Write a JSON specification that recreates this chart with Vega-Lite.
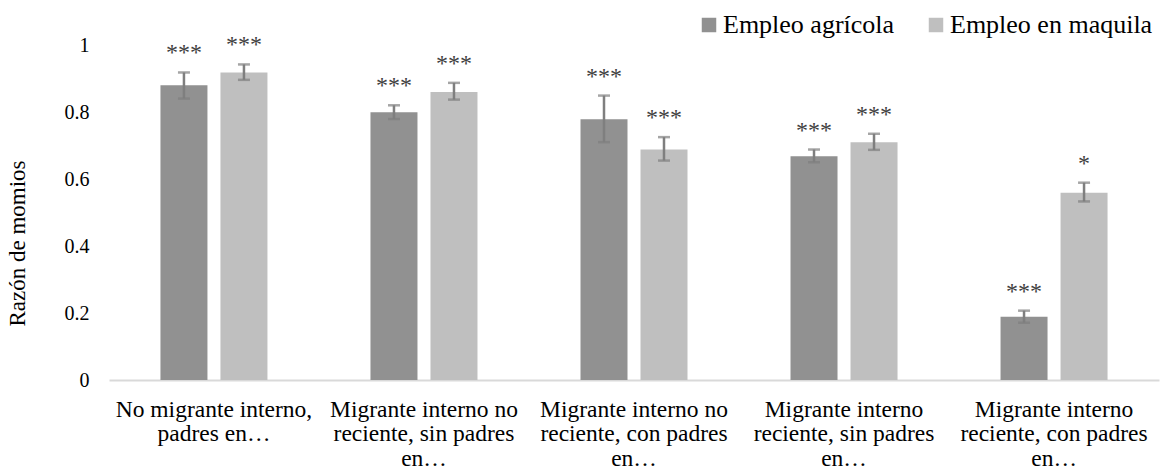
{
  "$schema": "https://vega.github.io/schema/vega-lite/v6.json",
  "width": 1050,
  "height": 335,
  "autosize": {"type": "none"},
  "padding": {"left": 109, "top": 45, "right": 2, "bottom": 96},
  "background": "white",
  "config": {
    "view": {"stroke": null},
    "font": "Liberation Serif",
    "axis": {"labelFont": "Liberation Serif", "titleFont": "Liberation Serif"},
    "legend": {"labelFont": "Liberation Serif", "titleFont": "Liberation Serif"},
    "text": {"font": "Liberation Serif"}
  },
  "data": {
    "values": [
      {"cat": "No migrante interno,|padres en…", "serie": "Empleo agrícola", "valor": 0.88, "lo": 0.84, "hi": 0.918, "sig": "***"},
      {"cat": "No migrante interno,|padres en…", "serie": "Empleo en maquila", "valor": 0.918, "lo": 0.896, "hi": 0.942, "sig": "***"},
      {"cat": "Migrante interno no|reciente, sin padres|en…", "serie": "Empleo agrícola", "valor": 0.799, "lo": 0.779, "hi": 0.82, "sig": "***"},
      {"cat": "Migrante interno no|reciente, sin padres|en…", "serie": "Empleo en maquila", "valor": 0.86, "lo": 0.837, "hi": 0.887, "sig": "***"},
      {"cat": "Migrante interno no|reciente, con padres|en…", "serie": "Empleo agrícola", "valor": 0.778, "lo": 0.71, "hi": 0.849, "sig": "***"},
      {"cat": "Migrante interno no|reciente, con padres|en…", "serie": "Empleo en maquila", "valor": 0.688, "lo": 0.655, "hi": 0.725, "sig": "***"},
      {"cat": "Migrante interno|reciente, sin padres|en…", "serie": "Empleo agrícola", "valor": 0.668, "lo": 0.65, "hi": 0.688, "sig": "***"},
      {"cat": "Migrante interno|reciente, sin padres|en…", "serie": "Empleo en maquila", "valor": 0.71, "lo": 0.687, "hi": 0.735, "sig": "***"},
      {"cat": "Migrante interno|reciente, con padres|en…", "serie": "Empleo agrícola", "valor": 0.189, "lo": 0.171, "hi": 0.207, "sig": "***"},
      {"cat": "Migrante interno|reciente, con padres|en…", "serie": "Empleo en maquila", "valor": 0.559, "lo": 0.533, "hi": 0.589, "sig": "*"}
    ]
  },
  "encoding": {
    "x": {
      "field": "cat",
      "type": "nominal",
      "sort": null,
      "scale": {"paddingInner": 0.4905, "paddingOuter": 0.245},
      "axis": {
        "title": null,
        "labelAngle": 0,
        "labelExpr": "split(datum.label, '|')",
        "labelFont": "Liberation Serif",
        "labelFontSize": 23.5,
        "labelLineHeight": 24.5,
        "labelColor": "#000000",
        "labelBaseline": "top",
        "labelPadding": 17,
        "ticks": false,
        "domainColor": "#d9d9d9",
        "domainWidth": 2,
        "labelLimit": 0,
        "grid": false
      }
    },
    "xOffset": {
      "field": "serie",
      "type": "nominal",
      "scale": {"paddingInner": 0.2167, "paddingOuter": 0}
    }
  },
  "layer": [
    {
      "mark": {"type": "bar"},
      "encoding": {
        "y": {
          "field": "valor",
          "type": "quantitative",
          "scale": {"domain": [0, 1], "nice": false, "zero": true},
          "axis": {
            "title": "Razón de momios",
            "titleFont": "Liberation Serif",
            "titleFontSize": 23,
            "titleFontWeight": "normal",
            "titleColor": "#000000",
            "titleX": -92,
            "titleY": 198,
            "titleBaseline": "middle",
            "titleAngle": -90,
            "values": [0, 0.2, 0.4, 0.6, 0.8, 1],
            "format": "~g",
            "labelFont": "Liberation Serif",
            "labelFontSize": 20,
            "labelColor": "#000000",
            "labelPadding": 20,
            "ticks": false,
            "domain": false,
            "grid": false
          }
        },
        "color": {
          "field": "serie",
          "type": "nominal",
          "scale": {"domain": ["Empleo agrícola", "Empleo en maquila"], "range": ["#919191", "#bfbfbf"]},
          "legend": {
            "title": null,
            "orient": "none",
            "direction": "horizontal",
            "legendX": 587,
            "legendY": -33,
            "symbolType": "square",
            "symbolSize": 210,
            "symbolStrokeWidth": 0,
            "labelFont": "Liberation Serif",
            "labelFontSize": 26,
            "labelColor": "#000000",
            "labelOffset": 1,
            "labelLimit": 0,
            "columnPadding": 28,
            "padding": 0
          }
        }
      }
    },
    {
      "mark": {"type": "rule", "color": "#7f7f7f", "strokeWidth": 2.5},
      "encoding": {
        "y": {"field": "lo", "type": "quantitative"},
        "y2": {"field": "hi"}
      }
    },
    {
      "mark": {"type": "tick", "color": "#7f7f7f", "thickness": 2.5, "size": 12, "orient": "horizontal"},
      "encoding": {
        "y": {"field": "lo", "type": "quantitative"}
      }
    },
    {
      "mark": {"type": "tick", "color": "#7f7f7f", "thickness": 2.5, "size": 12, "orient": "horizontal"},
      "encoding": {
        "y": {"field": "hi", "type": "quantitative"}
      }
    },
    {
      "mark": {"type": "text", "font": "Liberation Serif", "fontSize": 24, "color": "#404040", "baseline": "alphabetic", "dy": -12},
      "encoding": {
        "y": {"field": "hi", "type": "quantitative"},
        "text": {"field": "sig"}
      }
    }
  ]
}
